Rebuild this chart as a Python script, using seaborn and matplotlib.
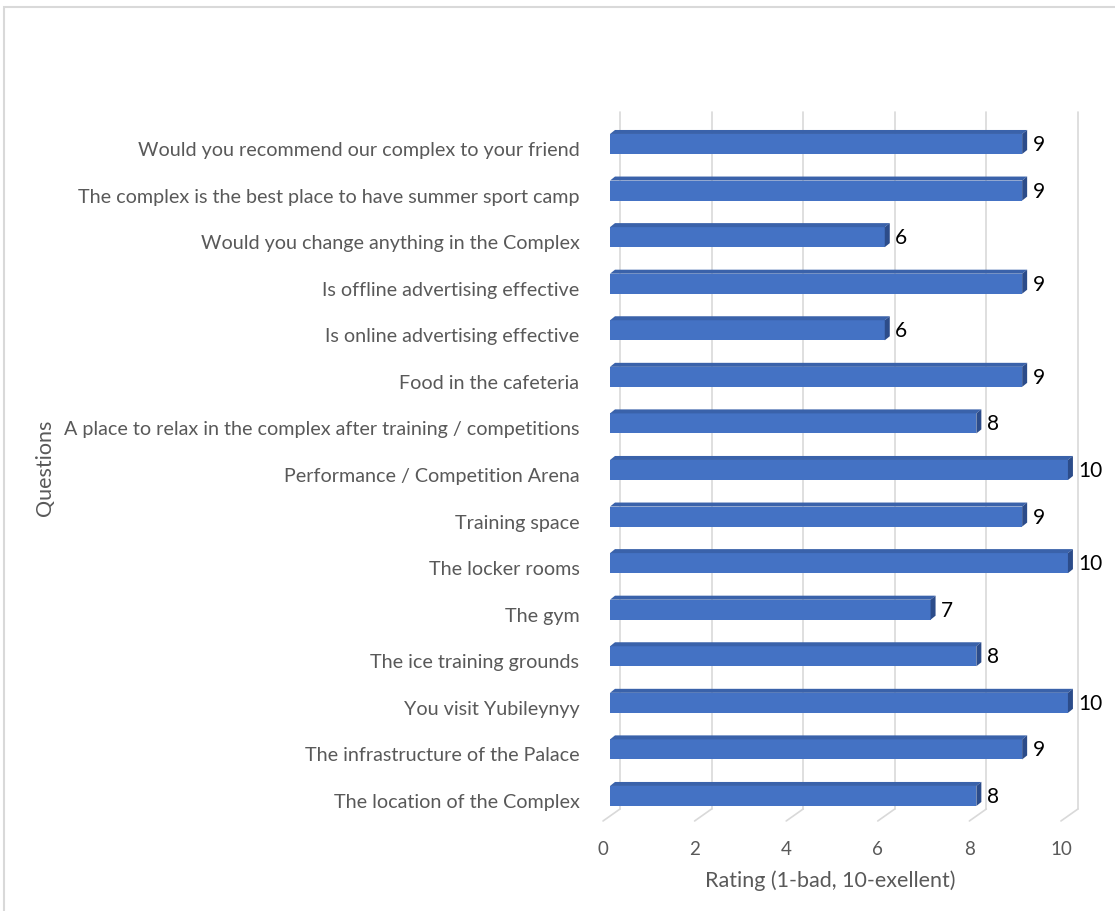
import matplotlib
matplotlib.use('Agg')
import matplotlib.pyplot as plt
import matplotlib.patches as mpatches
from matplotlib.transforms import ScaledTranslation, blended_transform_factory
import pandas as pd
import seaborn as sns

# data (top to bottom as in the chart)
questions = [
    'Would you recommend our complex to your friend',
    'The complex is the best place to have summer sport camp',
    'Would you change anything in the Complex',
    'Is offline advertising effective',
    'Is online advertising effective',
    'Food in the cafeteria',
    'A place to relax in the complex after training / competitions',
    'Performance / Competition Arena',
    'Training space',
    'The locker rooms',
    'The gym',
    'The ice training grounds',
    'You visit Yubileynyy',
    'The infrastructure of the Palace',
    'The location of the Complex',
]
ratings = [9, 9, 6, 9, 6, 9, 8, 10, 9, 10, 7, 8, 10, 9, 8]
x_ticks = [0, 2, 4, 6, 8, 10]

df = pd.DataFrame({'Questions': questions, 'Rating': ratings})

sns.set_style('white')
plt.rcParams['font.family'] = ['Lato', 'DejaVu Sans']

grey_txt = '#595959'
grid_col = '#D9D9D9'
front_col = '#4472C4'
top_col = '#3A62AA'
side_col = '#2C4C8A'

fig = plt.figure(figsize=(11.15, 9.12), dpi=100)
ax = fig.add_axes([0.5471, 0.0987, 0.4107, 0.7774])

sns.barplot(data=df, y='Questions', x='Rating', orient='h', color=front_col,
            saturation=1, width=0.43, linewidth=0, ax=ax, zorder=3)

ax.set_xlim(0, 10)
ax.set_ylim(14.537, -0.687)
for s in ax.spines.values():
    s.set_visible(False)

# pseudo 3D faces on each bar
dx, dy = 0.109, 0.086
for p in list(ax.patches):
    x0, w = p.get_x(), p.get_width()
    yt, h = p.get_y(), p.get_height()
    x1 = x0 + w
    top = mpatches.Polygon([(x0, yt), (x0 + dx, yt - dy), (x1 + dx, yt - dy), (x1, yt)],
                           closed=True, facecolor=top_col, edgecolor='none', zorder=3,
                           clip_on=False)
    side = mpatches.Polygon([(x1, yt), (x1 + dx, yt - dy), (x1 + dx, yt + h - dy), (x1, yt + h)],
                            closed=True, facecolor=side_col, edgecolor='none', zorder=3,
                            clip_on=False)
    ax.add_patch(top)
    ax.add_patch(side)

# back wall gridlines and floor diagonals
blend = blended_transform_factory(ax.transData, ax.transAxes)
back = blend + ScaledTranslation(0.10, 0, fig.dpi_scale_trans)
floor_h = 12 / 709
for t in x_ticks:
    ax.plot([t, t], [floor_h, 1.0], transform=back, color=grid_col, lw=1.2, zorder=1, clip_on=False)
    xa = ax.transData.transform((t, 0))[0] - 7
    xb = ax.transData.transform((t, 0))[0] + 10
    yb = ax.transAxes.transform((0, 0))[1]
    yt2 = ax.transAxes.transform((0, floor_h))[1]
    fig.add_artist(plt.Line2D([xa, xb], [yb, yt2], transform=None, color=grid_col, lw=1.2))

# value labels
ax.bar_label(ax.containers[0], padding=7.5, fontsize=15, color='black')

# ticks
ax.set_xticks(x_ticks)
ax.tick_params(axis='x', length=0, pad=14, labelsize=13.5, labelcolor=grey_txt)
ax.tick_params(axis='y', length=0, pad=22, labelsize=14.2, labelcolor=grey_txt)
for lab in ax.get_xticklabels():
    lab.set_transform(lab.get_transform() + ScaledTranslation(-0.07, 0, fig.dpi_scale_trans))
for lab in ax.get_yticklabels():
    lab.set_transform(lab.get_transform() + ScaledTranslation(0, -0.04, fig.dpi_scale_trans))

ax.set_xlabel('Rating (1-bad, 10-exellent)', fontsize=15.5, color=grey_txt)
ax.xaxis.set_label_coords(0.480, -0.068)
ax.set_ylabel('Questions', fontsize=15.5, color=grey_txt)
ax.yaxis.set_label_coords(-1.212, 0.5)

# chart area border
fig.add_artist(mpatches.Rectangle((4 / 1115, -0.05), 1.2, 1 - 8 / 912 + 0.05,
                                  transform=fig.transFigure, fill=False,
                                  edgecolor=grid_col, lw=1.5))

fig.savefig('out.png', dpi=100)
